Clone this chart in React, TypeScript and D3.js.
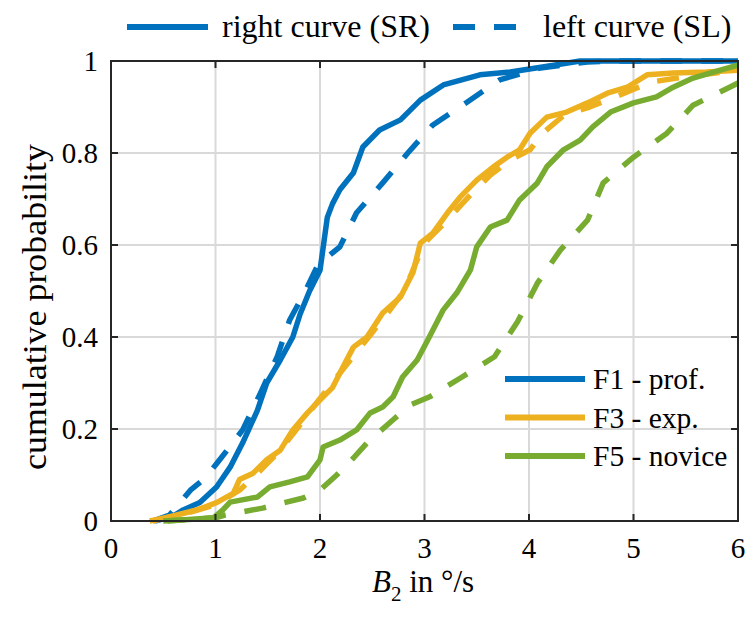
import * as d3 from "d3";

// values: [B2 in °/s, cumulative probability]
const f1Right: [number, number][] = [
  [0.42, 0], [0.59, 0.01], [0.69, 0.024], [0.85, 0.04], [1.01, 0.074], [1.14, 0.117],
  [1.26, 0.17], [1.4, 0.24], [1.49, 0.3], [1.62, 0.35], [1.74, 0.4], [1.81, 0.45],
  [1.9, 0.5], [2.0, 0.545], [2.07, 0.66], [2.12, 0.69], [2.19, 0.72], [2.32, 0.757],
  [2.41, 0.813], [2.57, 0.85], [2.77, 0.872], [2.96, 0.915], [3.18, 0.948], [3.53, 0.97],
  [3.82, 0.976], [4.13, 0.987], [4.49, 1], [6, 1],
];
const f1Left: [number, number][] = [
  [0.4, 0], [0.56, 0.013], [0.76, 0.067], [0.9, 0.093], [1.04, 0.133], [1.26, 0.198],
  [1.43, 0.278], [1.59, 0.357], [1.71, 0.437], [1.86, 0.5], [1.98, 0.557], [2.19, 0.596],
  [2.35, 0.67], [2.6, 0.735], [2.84, 0.8], [3.08, 0.861], [3.41, 0.911], [3.72, 0.959],
  [4.11, 0.985], [4.56, 0.998], [4.87, 1], [6, 1],
];
const f3Right: [number, number][] = [
  [0.4, 0], [0.82, 0.024], [1.01, 0.04], [1.17, 0.06], [1.23, 0.09], [1.36, 0.104],
  [1.49, 0.133], [1.62, 0.154], [1.74, 0.198], [1.88, 0.235], [2.0, 0.263], [2.12, 0.29],
  [2.22, 0.335], [2.32, 0.378], [2.45, 0.4], [2.6, 0.452], [2.77, 0.487], [2.89, 0.54],
  [2.96, 0.604], [3.08, 0.626], [3.22, 0.67], [3.34, 0.704], [3.5, 0.741], [3.66, 0.77],
  [3.79, 0.791], [3.91, 0.807], [4.01, 0.843], [4.17, 0.878], [4.36, 0.889], [4.56, 0.909],
  [4.75, 0.93], [4.94, 0.943], [5.13, 0.97], [5.38, 0.974], [5.7, 0.976], [6, 0.98],
];
const f3Left: [number, number][] = [
  [0.37, 0], [0.66, 0.013], [1.0, 0.035], [1.23, 0.067], [1.43, 0.11], [1.62, 0.154],
  [1.81, 0.209], [1.95, 0.252], [2.14, 0.307], [2.29, 0.35], [2.48, 0.404], [2.67, 0.459],
  [2.81, 0.502], [2.91, 0.557], [3.0, 0.604], [3.2, 0.65], [3.44, 0.709], [3.63, 0.752],
  [3.82, 0.785], [4.01, 0.807], [4.13, 0.843], [4.34, 0.883], [4.58, 0.9], [4.87, 0.926],
  [5.16, 0.954], [5.54, 0.967], [6, 0.98],
];
const f5Right: [number, number][] = [
  [0.54, 0], [0.98, 0.007], [1.07, 0.024], [1.14, 0.041], [1.4, 0.052], [1.52, 0.074],
  [1.71, 0.085], [1.88, 0.096], [2.0, 0.133], [2.03, 0.161], [2.19, 0.176], [2.35, 0.198],
  [2.48, 0.235], [2.6, 0.248], [2.7, 0.27], [2.79, 0.313], [2.93, 0.35], [3.03, 0.393],
  [3.18, 0.459], [3.31, 0.496], [3.44, 0.546], [3.5, 0.596], [3.63, 0.639], [3.79, 0.654],
  [3.91, 0.698], [4.08, 0.735], [4.17, 0.77], [4.33, 0.807], [4.49, 0.828], [4.61, 0.857],
  [4.78, 0.889], [5.0, 0.909], [5.22, 0.922], [5.38, 0.943], [5.57, 0.963], [5.83, 0.98],
  [6, 0.991],
];
const f5Left: [number, number][] = [
  [0.5, 0], [1.0, 0.007], [1.09, 0.013], [1.45, 0.028], [1.84, 0.05], [2.0, 0.067],
  [2.16, 0.1], [2.32, 0.137], [2.45, 0.17], [2.7, 0.22], [2.86, 0.252], [3.05, 0.27],
  [3.36, 0.313], [3.67, 0.357], [3.89, 0.433], [4.08, 0.517], [4.3, 0.589], [4.56, 0.654],
  [4.71, 0.735], [5.0, 0.791], [5.32, 0.843], [5.57, 0.904], [5.92, 0.943], [6, 0.952],
];

const groups = ["F1 - prof.", "F3 - exp.", "F5 - novice"];
const colors = ["#0072BD", "#EDB120", "#77AC30"];
const curves = ["right curve (SR)", "left curve (SL)"];
const xTicks = [0, 1, 2, 3, 4, 5, 6];
const yTicks = [0, 0.2, 0.4, 0.6, 0.8, 1];

const series = [
  { data: f1Right, g: 0, dashed: false },
  { data: f1Left, g: 0, dashed: true },
  { data: f3Right, g: 1, dashed: false },
  { data: f3Left, g: 1, dashed: true },
  { data: f5Right, g: 2, dashed: false },
  { data: f5Left, g: 2, dashed: true },
];

const width = 747, height = 619;
const left = 111, right = 738, top = 61, bottom = 521;
const dash = "22 19";
const serif = "'Liberation Serif'";
const tickStyle = { fontFamily: serif, fontSize: 29 };
const labelStyle = { fontFamily: serif, fontSize: 31 };
const topLegStyle = { fontFamily: serif, fontSize: 32 };
const legStyle = { fontFamily: serif, fontSize: 29.5 };

const x = d3.scaleLinear().domain([0, 6]).range([left, right]);
const y = d3.scaleLinear().domain([0, 1]).range([bottom, top]);
const line = d3.line<[number, number]>().x(d => x(d[0])).y(d => y(d[1]));

const App = () => {
  const tl = 7;
  return (
    <svg width={width} height={height} style={{ position: "absolute", left: 0, top: 0 }}>
      <defs>
        <clipPath id="plotclip">
          <rect x={left} y={top - 4} width={right - left} height={bottom - top + 8} />
        </clipPath>
      </defs>

      {/* grid */}
      {xTicks.slice(1, -1).map(t => (
        <line key={"gx" + t} x1={x(t)} x2={x(t)} y1={top} y2={bottom} stroke="#d9d9d9" strokeWidth={2} />
      ))}
      {yTicks.slice(1, -1).map(t => (
        <line key={"gy" + t} x1={left} x2={right} y1={y(t)} y2={y(t)} stroke="#d9d9d9" strokeWidth={2} />
      ))}

      <g clipPath="url(#plotclip)">
        {series.map((s, i) => (
          <path
            key={i}
            d={line(s.data) || ""}
            fill="none"
            stroke={colors[s.g]}
            strokeWidth={5.5}
            strokeLinejoin="round"
            strokeDasharray={s.dashed ? dash : undefined}
          />
        ))}
      </g>

      {/* axes box and ticks */}
      <g stroke="#262626" strokeWidth={2}>
        <rect x={left} y={top} width={right - left} height={bottom - top} fill="none" />
        {xTicks.map(t => (
          <g key={"tx" + t}>
            <line x1={x(t)} x2={x(t)} y1={bottom} y2={bottom - tl} />
            <line x1={x(t)} x2={x(t)} y1={top} y2={top + tl} />
          </g>
        ))}
        {yTicks.map(t => (
          <g key={"ty" + t}>
            <line x1={left} x2={left + tl} y1={y(t)} y2={y(t)} />
            <line x1={right} x2={right - tl} y1={y(t)} y2={y(t)} />
          </g>
        ))}
      </g>

      {xTicks.map(t => (
        <text key={"lx" + t} x={x(t)} y={bottom + 37} textAnchor="middle" style={tickStyle}>
          {d3.format("d")(t)}
        </text>
      ))}
      {yTicks.map(t => (
        <text key={"ly" + t} x={left - 13} y={y(t) + 10} textAnchor="end" style={tickStyle}>
          {t === 0 || t === 1 ? String(t) : d3.format(".1f")(t)}
        </text>
      ))}

      <text transform="translate(46, 307) rotate(-90)" textAnchor="middle"
        style={{ fontFamily: serif, fontSize: 33 }} textLength={326} lengthAdjust="spacingAndGlyphs">
        cumulative probability
      </text>

      <text x={423} y={592} textAnchor="middle" style={labelStyle}>
        <tspan style={{ fontStyle: "italic" }}>B</tspan>
        <tspan dy={9} style={{ fontSize: 21 }}>2</tspan>
        <tspan dy={-9}> in °/s</tspan>
      </text>

      {/* top legend: line style */}
      {[
        { label: curves[0], x0: 127, x1: 208, tx: 222, dashed: false },
        { label: curves[1], x0: 453, x1: 523, tx: 543, dashed: true },
      ].map(it => (
        <g key={it.label}>
          <line x1={it.x0} x2={it.x1} y1={27} y2={27} stroke={colors[0]} strokeWidth={6}
            strokeDasharray={it.dashed ? dash : undefined} />
          <text x={it.tx} y={37} style={topLegStyle}>{it.label}</text>
        </g>
      ))}

      {/* inner legend: groups */}
      {groups.map((gname, i) => {
        const ly = 379 + i * 38.5;
        return (
          <g key={gname}>
            <line x1={505} x2={585} y1={ly} y2={ly} stroke={colors[i]} strokeWidth={6} />
            <text x={593} y={ly + 10} style={legStyle}>{gname}</text>
          </g>
        );
      })}
    </svg>
  );
};

export default App;
